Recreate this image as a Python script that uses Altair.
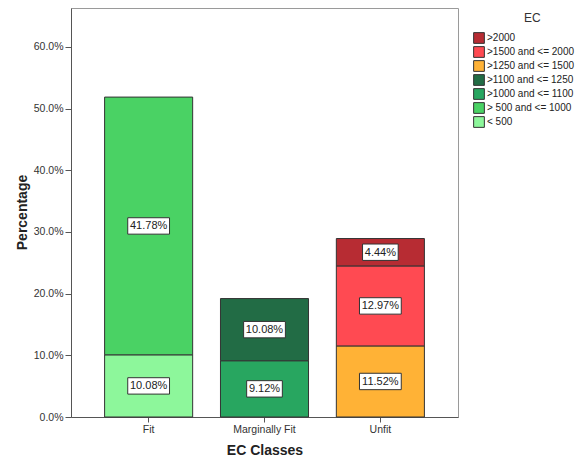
import altair as alt
import pandas as pd

# ---- data ----
classes = ["Fit", "Fit", "Marginally Fit", "Marginally Fit", "Unfit", "Unfit", "Unfit"]
ec_groups = ["< 500", "> 500 and <= 1000", ">1000 and <= 1100", ">1100 and <= 1250",
             ">1250 and <= 1500", ">1500 and <= 2000", ">2000"]
percent = [10.08, 41.78, 9.12, 10.08, 11.52, 12.97, 4.44]

class_order = ["Fit", "Marginally Fit", "Unfit"]
legend_order = [">2000", ">1500 and <= 2000", ">1250 and <= 1500", ">1100 and <= 1250",
                ">1000 and <= 1100", "> 500 and <= 1000", "< 500"]
legend_colors = ["#B72C33", "#FF4A52", "#FFB236", "#226C45", "#28A660", "#4AD264", "#8DF79B"]
y_ticks = [0.0, 0.1, 0.2, 0.3, 0.4, 0.5, 0.6]

df = pd.DataFrame({"cls": classes, "ec": ec_groups, "pct": percent})
df["rank"] = [len(legend_order) - 1 - legend_order.index(e) for e in df["ec"]]

FONT = "Liberation Sans"

base = alt.Chart(df).transform_calculate(
    frac="datum.pct / 100"
).transform_stack(
    stack="frac", groupby=["cls"], sort=[alt.SortField("rank", order="ascending")], as_=["y0", "y1"]
)

x_enc = alt.X(
    "cls:N",
    scale=alt.Scale(domain=class_order, paddingInner=0.24, paddingOuter=0.29),
    axis=alt.Axis(
        title="EC Classes", labelAngle=0, labelFontSize=10.5, labelColor="#333",
        labelFont=FONT, tickSize=5, labelPadding=2, domainColor="#555", tickColor="#555",
        titleFont=FONT, titleFontSize=14, titleFontWeight="bold", titleColor="#222",
        titleY=33, titleBaseline="middle",
    ),
)
y_scale = alt.Scale(domain=[0, 0.663], nice=False, zero=True)

bars = base.mark_bar(stroke="#333", strokeWidth=1, opacity=1).encode(
    x=x_enc,
    y=alt.Y(
        "y0:Q", scale=y_scale,
        axis=alt.Axis(
            values=y_ticks, format=".1%", grid=False, title="Percentage",
            labelFontSize=10.5, labelColor="#333", labelFont=FONT, tickSize=6, labelPadding=2,
            domainColor="#555", tickColor="#555",
            titleFont=FONT, titleFontSize=14, titleFontWeight="bold", titleColor="#222",
            titleX=-49, titleY=204, titleAngle=-90, titleAlign="center", titleBaseline="middle",
        ),
    ),
    y2="y1:Q",
    color=alt.Color(
        "ec:N",
        scale=alt.Scale(domain=legend_order, range=legend_colors),
        legend=alt.Legend(
            title="EC", orient="none", legendX=402, legendY=5,
            titleFont=FONT, titleFontSize=12, titleFontWeight="normal", titleColor="#333",
            titleAnchor="middle", titleAlign="left", titlePadding=7,
            labelFont=FONT, labelFontSize=10, labelColor="#222", labelOffset=2, labelLimit=200,
            symbolType="square", symbolSize=115, symbolStrokeColor="#333",
            symbolStrokeWidth=1, symbolOpacity=1, rowPadding=-2,
        ),
    ),
)

labeled = base.transform_calculate(
    mid="(datum.y0 + datum.y1) / 2",
    label="format(datum.pct, '.2f') + '%'",
    hw="((length(datum.label) - 2) * 6.12 + 17.3) / 2",
    path="'M' + (-datum.hw) + ',-8.2H' + datum.hw + 'V8.2H' + (-datum.hw) + 'Z'",
)

boxes = labeled.mark_point(
    filled=True, fill="white", stroke="#333", strokeWidth=1, opacity=1, size=4
).encode(
    x=alt.X("cls:N", scale=alt.Scale(domain=class_order)),
    y=alt.Y("mid:Q", scale=y_scale),
    shape=alt.Shape("path:N", scale=None),
)

texts = labeled.mark_text(font=FONT, fontSize=11, color="#222", baseline="middle", dy=0.5).encode(
    x=alt.X("cls:N", scale=alt.Scale(domain=class_order)),
    y=alt.Y("mid:Q", scale=y_scale),
    text="label:N",
)

chart = alt.layer(bars, boxes, texts).properties(
    width=387, height=409,
    autosize=alt.AutoSizeParams(type="none"),
    padding={"left": 63, "top": 0, "right": 117, "bottom": 40},
    background="white",
).configure_view(stroke="#9a9a9a", strokeWidth=1)

chart.save("out.html", embed_options={"renderer": "svg", "actions": False})
